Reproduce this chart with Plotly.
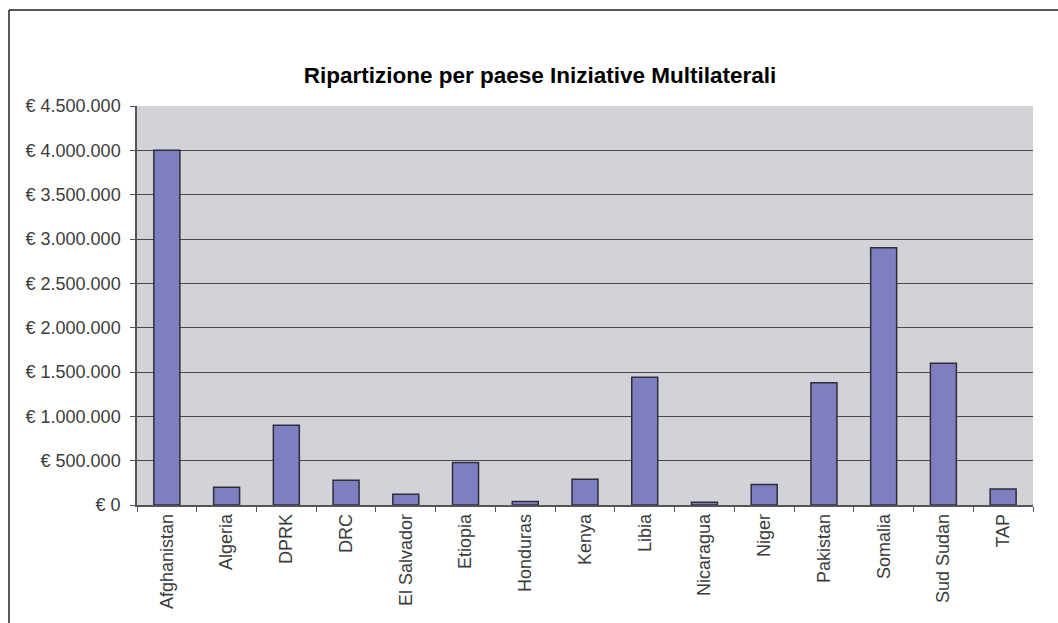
import plotly.graph_objects as go

# Funding per country for multilateral initiatives (EUR)
paesi = ["Afghanistan", "Algeria", "DPRK", "DRC", "El Salvador", "Etiopia",
         "Honduras", "Kenya", "Libia", "Nicaragua", "Niger", "Pakistan",
         "Somalia", "Sud Sudan", "TAP"]
importi = [4000000, 200000, 900000, 280000, 120000, 480000,
           40000, 290000, 1440000, 30000, 230000, 1380000,
           2900000, 1600000, 180000]

tick_valori = [0, 500000, 1000000, 1500000, 2000000, 2500000,
               3000000, 3500000, 4000000, 4500000]
tick_testi = ["€ 0", "€ 500.000", "€ 1.000.000", "€ 1.500.000", "€ 2.000.000",
              "€ 2.500.000", "€ 3.000.000", "€ 3.500.000", "€ 4.000.000",
              "€ 4.500.000"]

W, H = 1058, 623
L, R, T, B = 137, 25, 106, 118
pw, ph = W - L - R, H - T - B

fig = go.Figure(go.Bar(
    x=paesi, y=importi,
    marker=dict(color="#7e7ec0", line=dict(color="#2e2e3a", width=1.5)),
))

font_ax = dict(family="Liberation Sans, Arial, sans-serif", size=18, color="#3c3c3c")

fig.update_layout(
    width=W, height=H,
    margin=dict(l=L, r=R, t=T, b=B),
    paper_bgcolor="white",
    plot_bgcolor="#d2d2d9",
    bargap=0.565,
    showlegend=False,
    title=dict(text="<b>Ripartizione per paese Iniziative Multilaterali</b>",
               x=540 / W, xanchor="center", y=1 - 75 / H, yanchor="middle",
               font=dict(family="Liberation Sans, Arial, sans-serif", size=22.5, color="black")),
    xaxis=dict(
        type="category", tickangle=-90, tickfont=font_ax,
        ticks="outside", tickson="boundaries", ticklen=5, tickcolor="#555",
        showline=True, linecolor="#555", linewidth=1.5, showgrid=False,
        mirror=False,
    ),
    yaxis=dict(
        range=[0, 4500000], tickvals=tick_valori, ticktext=tick_testi,
        tickfont=font_ax, ticks="outside", ticklen=5, tickcolor="#555",
        showline=True, linecolor="#555", linewidth=1.5,
        showgrid=True, gridcolor="#4a4a4a", gridwidth=1.2, zeroline=False,
        ticklabelstandoff=6,
    ),
)

# outer chart frame (left and top edges)
def px_x(p):
    return (p - L) / pw

def px_y(p):
    return 1 - (p - T) / ph

fig.add_shape(type="line", xref="paper", yref="paper",
              x0=px_x(9), x1=px_x(9), y0=px_y(10), y1=px_y(H + 5),
              line=dict(color="#222", width=1.5))
fig.add_shape(type="line", xref="paper", yref="paper",
              x0=px_x(9), x1=px_x(W + 5), y0=px_y(10), y1=px_y(10),
              line=dict(color="#222", width=1.5))

fig.write_html("out.html")
